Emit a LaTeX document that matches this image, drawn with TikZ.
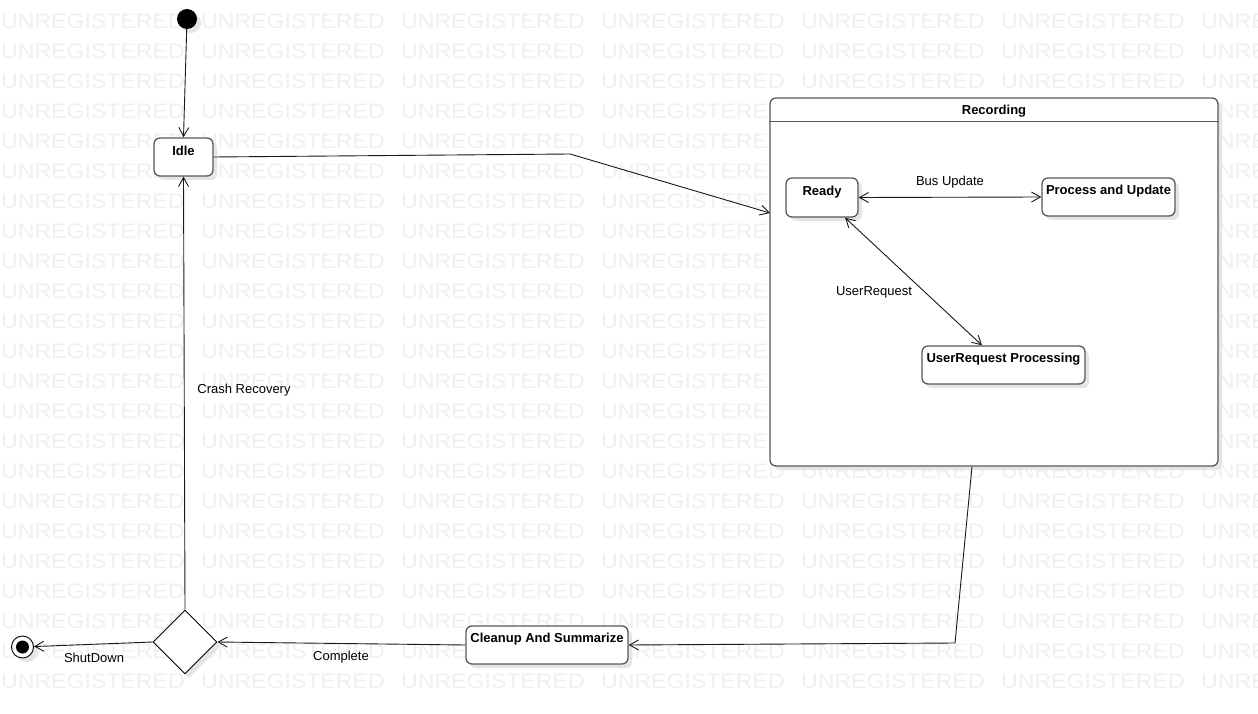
\documentclass[tikz,border=0pt]{standalone}
\usepackage{fontspec}
\setmainfont{Liberation Sans}
\usetikzlibrary{arrows.meta,shapes.geometric,shadows,calc}
\begin{document}
\begin{tikzpicture}[x=1pt,y=-1pt,
  line/.style={draw=black!90, line width=0.9pt},
  tipend/.style={-{Straight Barb[length=9pt,width=10pt,line width=0.9pt]}},
  tipboth/.style={{Straight Barb[length=9pt,width=10pt,line width=0.9pt]}-{Straight Barb[length=9pt,width=10pt,line width=0.9pt]}},
  shad/.style={drop shadow={shadow xshift=4pt, shadow yshift=-4pt, fill=black!10, opacity=1}},
  box/.style={draw=black!65, line width=1.3pt, rounded corners=6pt, fill=white, shad, inner sep=0pt},
  btxt/.style={font=\fontsize{13}{15}\selectfont\bfseries, anchor=north, inner sep=0pt},
  lbl/.style={font=\fontsize{13}{15}\selectfont, inner sep=0pt},
  wm/.style={font=\fontsize{21}{21}\selectfont, text=black!6, anchor=west, inner sep=0pt}]
\useasboundingbox (0,0) rectangle (1258,714);
\fill[white] (0,0) rectangle (1258,714);
% watermark
\foreach \r in {0,...,22} {
  \foreach \c in {0,...,6} {
    \node[wm] (w\r-\c) at (200*\c+1, 21+30*\r) {\scalebox{1.1}[1]{UNREGISTERED}};
  }
}
% states
\node[circle, fill=black, minimum size=20pt, inner sep=0pt, shad] (init) at (187,19) {};
\node[box, minimum width=59pt, minimum height=38pt] (idle) at (183.5,157) {};
\node[btxt] (idlet) at ($(idle.north)+(0,9)$) {Idle};

\node[box, minimum width=448pt, minimum height=368pt] (rec) at (994,282) {};
\node[btxt] (rect) at ($(rec.north)+(0,8)$) {Recording};
\draw[draw=black!65, line width=1.3pt] ($(rec.north west)+(0,24)$) coordinate (h1) -- ($(rec.north east)+(0,24)$) coordinate (h2);

\node[box, minimum width=72pt, minimum height=39pt] (ready) at (822,197.5) {};
\node[btxt] (readyt) at ($(ready.north)+(0,9)$) {Ready};
\node[box, minimum width=133pt, minimum height=38pt] (proc) at (1108.5,197) {};
\node[btxt] (proct) at ($(proc.north)+(0,8)$) {Process and Update};
\node[box, minimum width=163pt, minimum height=38pt] (urp) at (1003.5,365) {};
\node[btxt] (urpt) at ($(urp.north)+(0,8)$) {UserRequest Processing};
\node[box, minimum width=162pt, minimum height=38pt] (clean) at (547,645) {};
\node[btxt] (cleant) at ($(clean.north)+(0,8)$) {Cleanup And Summarize};

\node[diamond, draw=black, line width=0.9pt, fill=white, minimum width=64pt, minimum height=64pt, inner sep=0pt, shad] (dec) at (185,642) {};
\node[circle, draw=black, line width=0.9pt, fill=white, minimum size=22pt, inner sep=0pt, shad] (final) at (22.5,647) {};
\node[circle, fill=black, minimum size=13pt, inner sep=0pt] (finalin) at (final) {};

% connectors
\coordinate (b1) at (570,154);
\coordinate (recin) at (770,213);
\coordinate (b2) at (955,643);
\draw[line, tipend] (init) -- (idle.north);
\draw[line, tipend] (idle.east) -- (b1) -- (recin);
\draw[line, tipboth] (ready.east) -- (proc.west);
\draw[line, tipboth] ([xshift=23pt]ready.south) -- ([xshift=-21.5pt]urp.north);
\draw[line, tipend] ([xshift=-22pt]rec.south) -- (b2) -- (clean.east);
\draw[line, tipend] (clean.west) -- (dec.east);
\draw[line, tipend] (dec.north) -- (idle.south);
\draw[line, tipend] (dec.west) -- (final);

% labels
\node[lbl] (l1) at (950,182) {Bus Update};
\node[lbl] (l2) at (874,292) {UserRequest};
\node[lbl] (l3) at (244,390) {Crash Recovery};
\node[lbl] (l4) at (341,657) {Complete};
\node[lbl] (l5) at (94,658) {ShutDown};
\end{tikzpicture}
\end{document}
